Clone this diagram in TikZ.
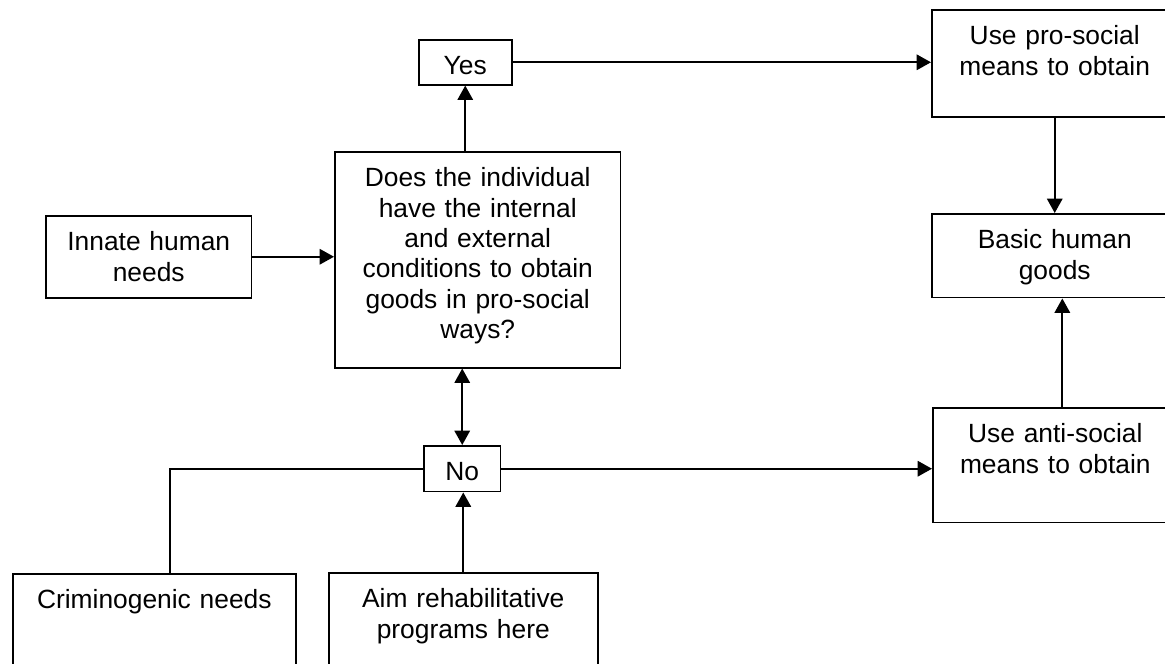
\documentclass[tikz,border=0pt]{standalone}
\usepackage{fontspec}
\setmainfont{Liberation Sans}
\usetikzlibrary{arrows.meta}

\begin{document}
\begin{tikzpicture}[x=0.455pt,y=-0.455pt,
every node/.style={draw,line width=0.7pt,anchor=north west,inner sep=0pt,
  align=center,text height=16pt,font=\fontsize{12pt}{13.8pt}\selectfont},
link/.style={line width=0.8pt,-{Triangle[length=6.5pt,width=7pt]}},
twoway/.style={line width=0.8pt,{Triangle[length=6.5pt,width=7pt]}-{Triangle[length=6.5pt,width=7pt]}}]
\useasboundingbox (0,0) rectangle (1165,664);
\clip (0,0) rectangle (1165,664);
% boxes
\node[text width=42.3pt,text depth=4.5pt] (yes) at (418,39) {Yes};
\node[text width=130.1pt,text depth=82.3pt] (q) at (334,151)
  {Does the individual\\have the internal\\and external\\conditions to obtain\\goods in pro-social\\ways?};
\node[text width=93.7pt,text depth=21.3pt] (innate) at (45,215) {Innate human\\needs};
\node[text width=35pt,text depth=4.9pt] (no) at (423,445) {No};
\node[text width=111.9pt,text depth=32.7pt] (pro) at (931,9) {Use pro-social\\means to obtain};
\node[text width=111.9pt,text depth=22.2pt] (basic) at (931,213) {Basic human\\goods};
\node[text width=111.5pt,text depth=36.3pt] (anti) at (932,407) {Use anti-social\\means to obtain};
\node[text width=128.8pt,text depth=34pt] (crim) at (12,573) {Criminogenic needs};
\node[text width=122.4pt,text depth=34pt] (aim) at (328,572) {Aim rehabilitative\\programs here};
% connectors
\draw[link] (innate.east) -- (innate.east -| q.west);
\draw[link] (q.north -| yes.south) -- (yes.south);
\draw[link] (yes.east) -- (yes.east -| pro.west);
\draw[link] (pro.south) -- (basic.north);
\draw[link] ([xshift=3.2pt]anti.north) -- ([xshift=3.2pt]anti.north |- basic.south);
\draw[twoway] (q.south -| no.north) -- (no.north);
\draw[link] (aim.north) -- (aim.north |- no.south);
\draw[link] (no.east) -- (no.east -| anti.west);
\draw[line width=0.8pt] (no.west) -| ([xshift=7pt]crim.north);
\end{tikzpicture}
\end{document}
